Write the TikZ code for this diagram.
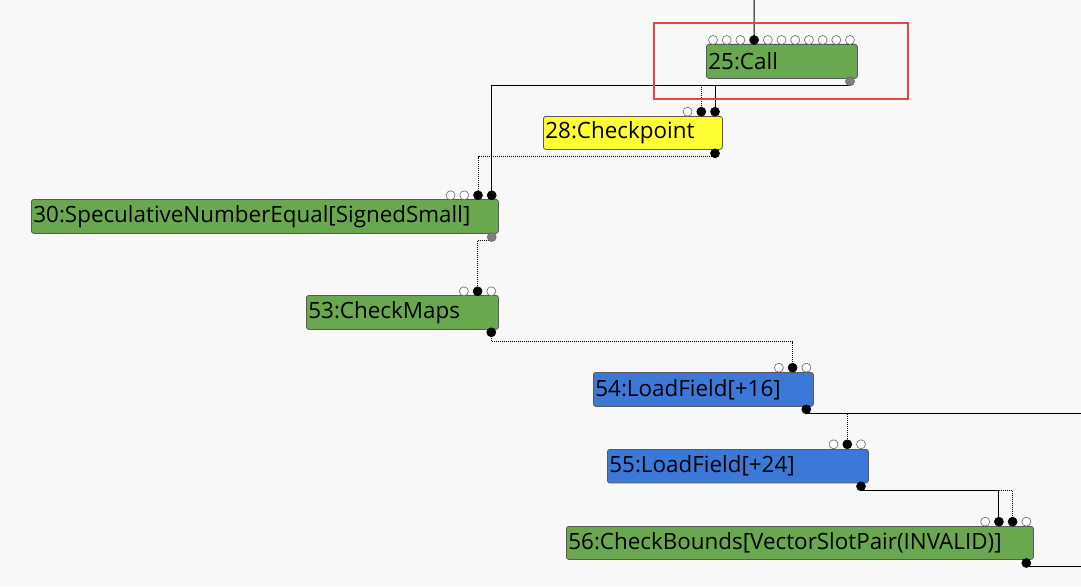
\documentclass[tikz,border=0pt]{standalone}
\usepackage{fontspec}
\setmainfont{Open Sans}
\pgfdeclarelayer{bg}
\pgfdeclarelayer{edges}
\pgfsetlayers{bg,edges,main}
\definecolor{bgc}{HTML}{F8F8F8}
\definecolor{ngreen}{HTML}{6AA84F}
\definecolor{nyellow}{HTML}{FFFF33}
\definecolor{nblue}{HTML}{3C78D8}
\definecolor{hired}{HTML}{F04040}
\begin{document}
\begin{tikzpicture}[x=1pt,y=-1pt,
  opnode/.style={draw=black!65, line width=0.8pt, rounded corners=2.5pt, anchor=north west,
    inner xsep=2pt, inner ysep=0pt, align=left, text=black,
    font=\fontsize{22.4}{24}\selectfont},
  inopen/.style={circle, draw=black!60, fill=white, line width=0.6pt, minimum size=9pt, inner sep=0pt},
  infull/.style={circle, draw=black, fill=black, line width=0.6pt, minimum size=9pt, inner sep=0pt},
  outgray/.style={circle, draw=black!60, fill=black!50, line width=0.6pt, minimum size=9pt, inner sep=0pt},
  sedge/.style={draw=black, line width=1pt},
  dedge/.style={draw=black, line width=1pt, dash pattern=on 1pt off 1pt},
]
\useasboundingbox (0,0) rectangle (1081,586);
\begin{pgfonlayer}{bg}
  \fill[bgc] (0,0) rectangle (1081,586);
\end{pgfonlayer}

% operation nodes
\node[opnode, fill=ngreen, minimum height=34, text width=147] (n25) at (706,44) {25:Call};
\node[opnode, fill=nyellow, minimum height=33, text width=175] (n28) at (543,116) {28:Checkpoint};
\node[opnode, fill=ngreen, minimum height=34, text width=463] (n30) at (31,199) {30:SpeculativeNumberEqual[SignedSmall]};
\node[opnode, fill=ngreen, minimum height=34, text width=188] (n53) at (306,295) {53:CheckMaps};
\node[opnode, fill=nblue, minimum height=34, text width=216] (n54) at (593,372) {54:LoadField[+16]};
\node[opnode, fill=nblue, minimum height=33.5, text width=257] (n55) at (607,449) {55:LoadField[+24]};
\node[opnode, fill=ngreen, minimum height=33, text width=463] (n56) at (566,526) {56:CheckBounds[VectorSlotPair(INVALID)]};

% input ports
\foreach \k/\s in {1/inopen,2/inopen,3/inopen,4/infull,5/inopen,6/inopen,7/inopen,8/inopen,9/inopen,10/inopen,11/inopen}
  \node[\s] (i25-\k) at ({850-13.7*(11-\k)},40) {};
\foreach \k/\s in {1/inopen,2/infull,3/infull}
  \node[\s] (i28-\k) at ({715-13.7*(3-\k)},111.7) {};
\foreach \k/\s in {1/inopen,2/inopen,3/infull,4/infull}
  \node[\s] (i30-\k) at ({491.7-13.7*(4-\k)},195.3) {};
\foreach \k/\s in {1/inopen,2/infull,3/inopen}
  \node[\s] (i53-\k) at ({491.3-13.7*(3-\k)},291.3) {};
\foreach \k/\s in {1/inopen,2/infull,3/inopen}
  \node[\s] (i54-\k) at ({806.3-13.7*(3-\k)},367.7) {};
\foreach \k/\s in {1/inopen,2/infull,3/inopen}
  \node[\s] (i55-\k) at ({861-13.7*(3-\k)},444.3) {};
\foreach \k/\s in {1/inopen,2/infull,3/infull,4/inopen}
  \node[\s] (i56-\k) at ({1026.3-13.7*(4-\k)},521.7) {};

% output ports
\node[outgray] (o25) at (850,81.3) {};
\node[infull] (o28) at (715,153.3) {};
\node[outgray] (o30) at (491.7,237) {};
\node[infull] (o53) at (491.3,332.3) {};
\node[infull] (o54) at (806.3,409.3) {};
\node[infull] (o55) at (861,486.3) {};
\node[infull] (o56) at (1026.3,563) {};

\coordinate (top25) at (754,0);
\coordinate (r54) at (1081,413.3);
\coordinate (r56) at (1081,566.7);

% connectors
\begin{pgfonlayer}{edges}
  \draw[sedge] (top25) -- (i25-4.center);
  \draw[sedge] (o25.center) -- ++(0,3.7) -| (i30-4.center);
  \draw[sedge] (o25.center) -- ++(0,3.7) -| (i28-3.center);
  \draw[dedge] (o25.center) -- ++(0,3.7) -| (i28-2.center);
  \draw[dedge] (o28.center) -- ++(0,3.4) -| (i30-3.center);
  \draw[dedge] (o30.center) -- ++(0,3.7) -| (i53-2.center);
  \draw[dedge] (o53.center) -- ++(0,9.4) -| (i54-2.center);
  \draw[dedge] (o54.center) -- ++(0,4) -| (i55-2.center);
  \draw[sedge] (o54.center) |- (r54);
  \draw[sedge] (o55.center) -- ++(0,3.7) -| (i56-2.center);
  \draw[dedge] (o55.center) -- ++(0,3.7) -| (i56-3.center);
  \draw[sedge] (o56.center) |- (r56);
\end{pgfonlayer}

% selection highlight
\draw[hired, line width=2pt] (654,23.5) rectangle (908,99);
\end{tikzpicture}
\end{document}
